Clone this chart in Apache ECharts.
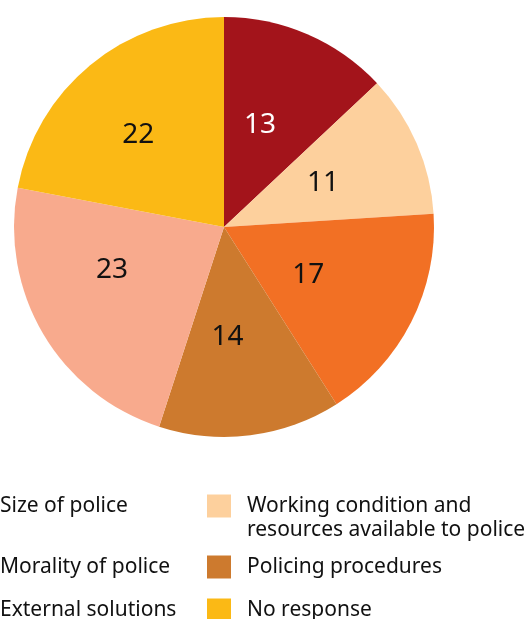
<!DOCTYPE html>
<html>
<head>
<meta charset="utf-8">
<script src="https://cdn.jsdelivr.net/npm/echarts@6/dist/echarts.min.js"></script>
<style>html,body{margin:0;padding:0;background:#fff;}#c{width:528px;height:619px;}</style>
</head>
<body>
<div id="c"></div>
<script>
var categories = ['Size of police', 'Working condition and resources available to police', 'Morality of police', 'Policing procedures', 'External solutions', 'No response'];
var values = [13, 11, 17, 14, 23, 22];
var colors = ['#A3141B', '#FDD09D', '#F27024', '#CD7A2E', '#F8AA8D', '#FBB915'];
var labelColors = ['#ffffff', '#111111', '#111111', '#111111', '#111111', '#111111'];
var labelOffsets = [[-7, -3], [0, -1], [-12, -1], [-10, 3], [-19, -12], [-17, -9]];

var FONT = 'Noto Sans';
var chart = echarts.init(document.getElementById('c'), null, {renderer: 'canvas'});

function legendFor(name, left, top, fmt) {
  return {
    data: [name],
    orient: 'vertical',
    left: left,
    top: top,
    padding: 0,
    itemWidth: 24,
    itemHeight: 23,
    icon: 'rect',
    selectedMode: false,
    formatter: fmt || function (n) { return n; },
    textStyle: {fontFamily: FONT, fontSize: 21, color: '#111', lineHeight: 24, padding: [0, 0, 0, 11]}
  };
}

var option = {
  animation: false,
  color: colors,
  legend: [
    legendFor(categories[0], -40, 494),
    legendFor(categories[1], 207, 470, function () { return '\nWorking condition and\nresources available to police'; }),
    legendFor(categories[2], -40, 555),
    legendFor(categories[3], 207, 555),
    legendFor(categories[4], -40, 598),
    legendFor(categories[5], 207, 598)
  ],
  series: [{
    type: 'pie',
    center: [224, 227],
    radius: [0, 210],
    startAngle: 90,
    clockwise: true,
    avoidLabelOverlap: false,
    label: {
      show: true,
      position: 'inside',
      formatter: '{c}',
      fontFamily: FONT,
      fontSize: 28,
      color: '#111'
    },
    labelLine: {show: false},
    itemStyle: {borderWidth: 0},
    emphasis: {disabled: true},
    data: categories.map(function (c, i) {
      return {name: c, value: values[i], label: {color: labelColors[i], offset: labelOffsets[i]}};
    })
  }]
};
chart.setOption(option);
</script>
</body>
</html>
